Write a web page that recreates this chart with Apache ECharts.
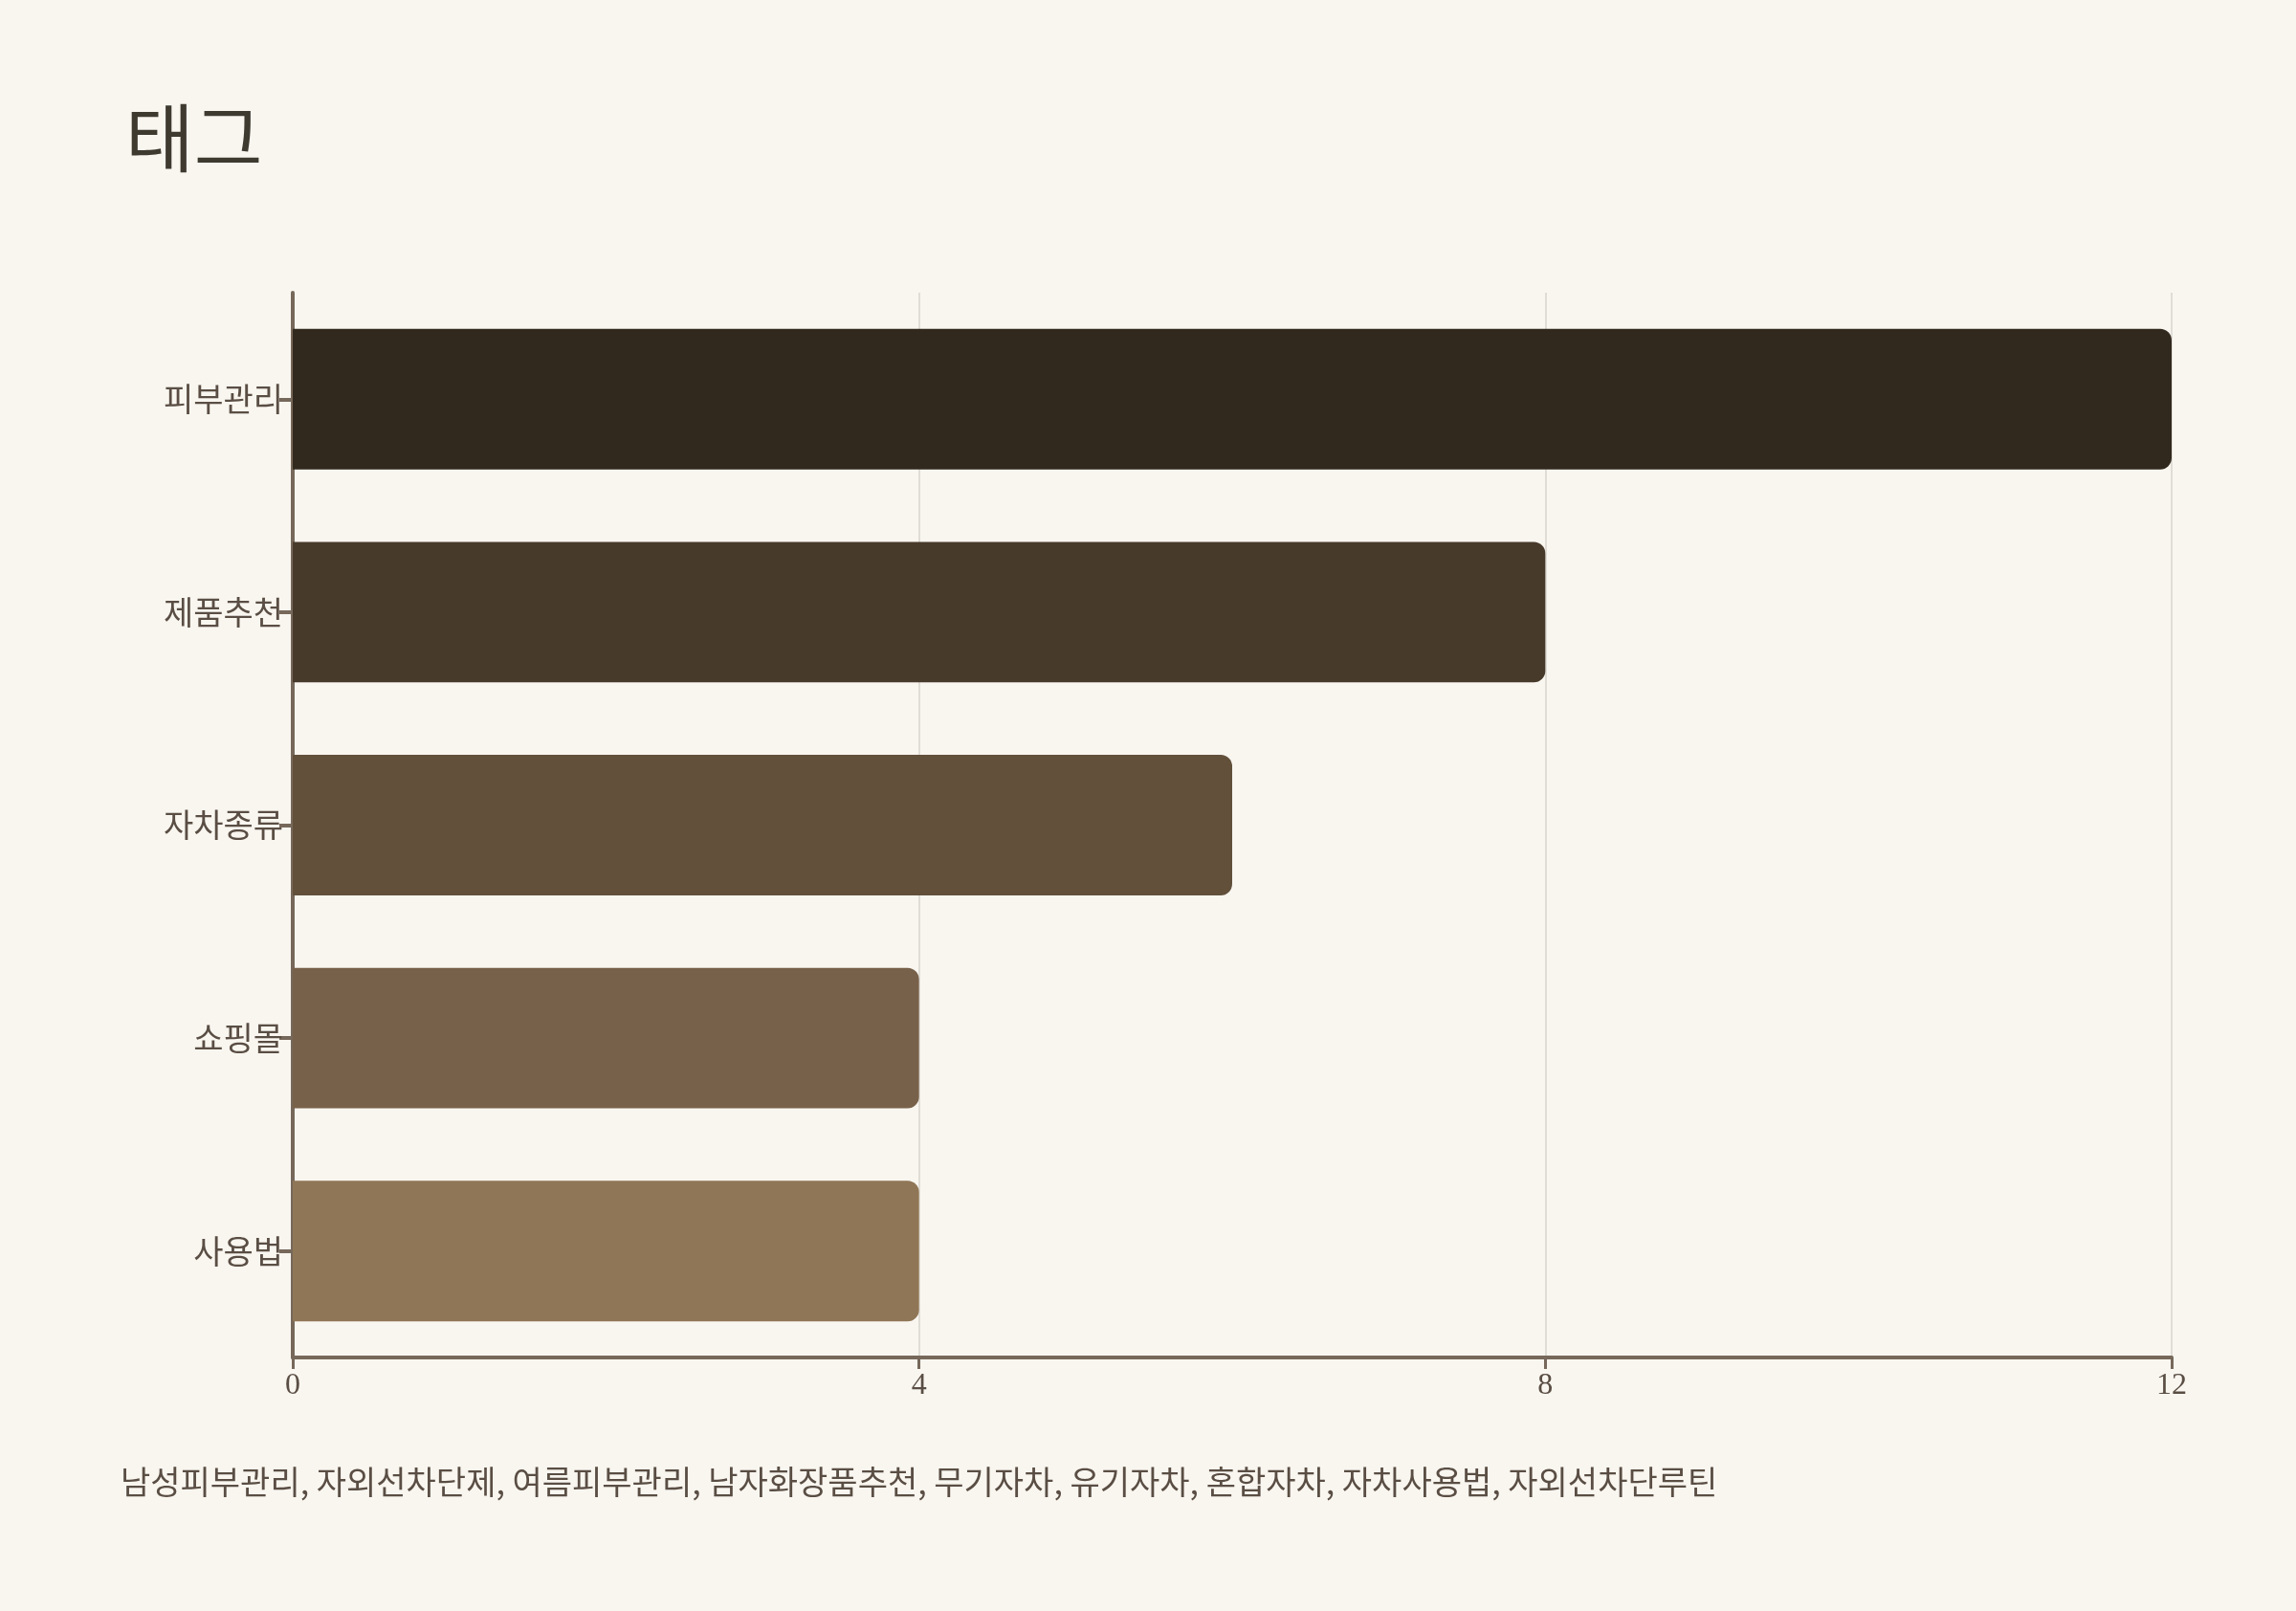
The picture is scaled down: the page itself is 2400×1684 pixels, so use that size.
<!DOCTYPE html>
<html>
<head>
<meta charset="utf-8">
<script src="https://cdn.jsdelivr.net/npm/echarts@6/dist/echarts.min.js"></script>
<style>
  html, body { margin: 0; padding: 0; background: #f9f6f0; }
  #chart { width: 2400px; height: 1684px; }
</style>
</head>
<body>
<div id="chart"></div>
<script>
var categories = ['피부관리', '제품추천', '자차종류', '쇼핑몰', '사용법'];
var values = [12, 8, 6, 4, 4];
var barColors = ['#32291e', '#483a2b', '#62503b', '#78614a', '#8f7656'];
var xTicks = { min: 0, max: 12, interval: 4 };
var footerText = '남성피부관리, 자외선차단제, 여름피부관리, 남자화장품추천, 무기자차, 유기자차, 혼합자차, 자차사용법, 자외선차단루틴';

var chart = echarts.init(document.getElementById('chart'));
chart.setOption({
    backgroundColor: '#f9f6f0',
    animation: false,
    title: {
        text: '태그',
        left: 126, top: 100,
        textStyle: { fontFamily: 'Noto Sans CJK KR', fontSize: 78, fontWeight: 'normal', color: '#3f3a30' }
    },
    graphic: [{
        type: 'text', left: 126, top: 1532,
        style: { text: footerText, fontFamily: 'Noto Sans CJK KR', fontSize: 34, fill: '#5a4e44' }
    }],
    grid: { left: 306, right: 130, top: 306, bottom: 265 },
    xAxis: {
        type: 'value', min: xTicks.min, max: xTicks.max, interval: xTicks.interval,
        axisLine: { show: true, lineStyle: { color: '#76685a', width: 4 } },
        axisTick: { show: true, length: 12, lineStyle: { color: '#76685a', width: 3 } },
        axisLabel: { fontFamily: 'Liberation Serif', fontSize: 32, color: '#5a4e44', margin: 14 },
        splitLine: { show: true, lineStyle: { color: '#e0ddd6', width: 2 } }
    },
    yAxis: {
        type: 'category', data: categories, inverse: true,
        axisLine: { show: true, lineStyle: { color: '#76685a', width: 4 } },
        axisTick: { show: true, alignWithLabel: true, length: 14, lineStyle: { color: '#76685a', width: 4 } },
        axisLabel: { fontFamily: 'Noto Sans CJK KR', fontSize: 34, color: '#5a4e44', margin: 10 }
    },
    series: [{
        type: 'bar', barWidth: '66%',
        data: values.map(function (v, i) {
            return { value: v, itemStyle: { color: barColors[i], borderRadius: [0, 12, 12, 0] } };
        })
    }]
});
</script>
</body>
</html>
